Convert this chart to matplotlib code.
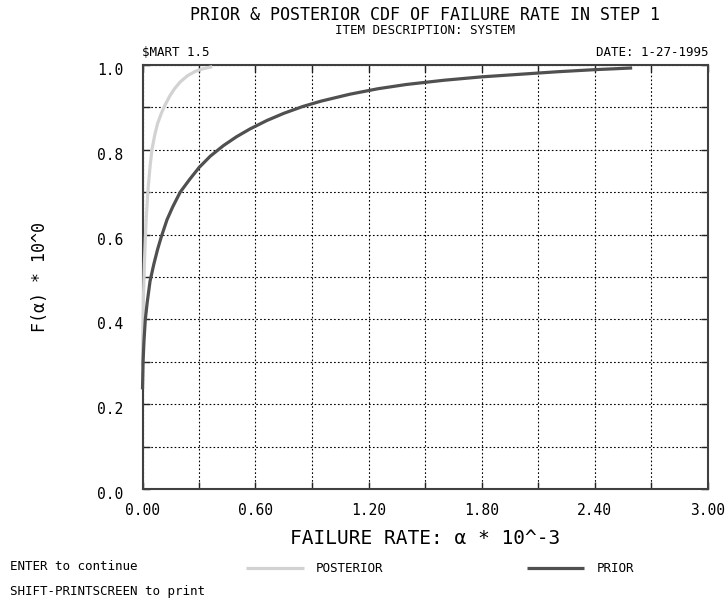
import numpy as np
import matplotlib
matplotlib.use("Agg")
import matplotlib.pyplot as plt
import matplotlib.transforms as mtrans
from matplotlib.ticker import MultipleLocator, FuncFormatter

# values (failure rate in 10^-3 units)
prior_x = [0.0, 0.003, 0.008, 0.015, 0.025, 0.04, 0.06, 0.08, 0.10, 0.13,
           0.16, 0.20, 0.25, 0.30, 0.36, 0.43, 0.50, 0.57, 0.66, 0.75,
           0.85, 0.95, 1.10, 1.25, 1.40, 1.60, 1.80, 2.00, 2.20, 2.40, 2.60]
prior_y = [0.235, 0.30, 0.35, 0.40, 0.44, 0.49, 0.53, 0.565, 0.595, 0.635,
           0.665, 0.70, 0.73, 0.758, 0.785, 0.81, 0.831, 0.849, 0.869, 0.886,
           0.902, 0.915, 0.931, 0.944, 0.954, 0.964, 0.972, 0.978, 0.984, 0.989, 0.993]

post_x = [0.0, 0.002, 0.005, 0.01, 0.015, 0.02, 0.03, 0.04, 0.05, 0.065,
          0.08, 0.10, 0.12, 0.145, 0.17, 0.20, 0.24, 0.28, 0.32, 0.37]
post_y = [0.29, 0.37, 0.45, 0.53, 0.59, 0.64, 0.71, 0.76, 0.80, 0.835,
          0.862, 0.886, 0.906, 0.927, 0.944, 0.96, 0.975, 0.985, 0.991, 0.996]

x_labels = ["0.00", "0.60", "1.20", "1.80", "2.40", "3.00"]
y_labels = ["0.0", "0.2", "0.4", "0.6", "0.8", "1.0"]

W, H = 728, 602
plt.rcParams["font.family"] = "DejaVu Sans Mono"


def fx(px):
    return px / W


def fy(py):
    return 1 - py / H


fig = plt.figure(figsize=(W / 100, H / 100), dpi=100)
ax = fig.add_axes([fx(142.5), fy(489), fx(707.5) - fx(142.5), fy(65) - fy(489)])

ax.plot(prior_x, prior_y, color="#505050", lw=2.3, label="PRIOR", zorder=4,
        clip_on=False, solid_capstyle="butt")
ax.plot(post_x, post_y, color="#d2d2d2", lw=2.3, label="POSTERIOR", zorder=3,
        clip_on=False, solid_capstyle="butt")

ax.set_xlim(0, 3.0)
ax.set_ylim(0, 1.0)
ax.xaxis.set_major_locator(MultipleLocator(0.3))
ax.yaxis.set_major_locator(MultipleLocator(0.1))
ax.xaxis.set_major_formatter(FuncFormatter(
    lambda v, p: x_labels[int(round(v / 0.6))] if abs(v / 0.6 - round(v / 0.6)) < 1e-6 else ""))
ax.yaxis.set_major_formatter(FuncFormatter(
    lambda v, p: y_labels[int(round(v / 0.2))] if abs(v / 0.2 - round(v / 0.2)) < 1e-6 else ""))
ax.tick_params(direction="in", length=5, width=1, color="#222222",
               top=True, right=True, labelsize=10.5, pad=10)
ax.tick_params(axis="y", pad=14)
shift = mtrans.ScaledTranslation(0, -0.04, fig.dpi_scale_trans)
for lab in ax.get_yticklabels():
    lab.set_transform(lab.get_transform() + shift)
ax.grid(True, color="black", lw=0.8, linestyle=(0, (1.5, 2)))
for s in ax.spines.values():
    s.set_color("#404040")
    s.set_linewidth(1.5)

ax.set_xlabel("FAILURE RATE: α * 10^-3", fontsize=14, labelpad=8)
ax.set_ylabel("F(α) * 10^0", fontsize=12, va="center")
ax.yaxis.set_label_coords(-0.181, 0.5)

fig.text(fx(425), fy(15), "PRIOR & POSTERIOR CDF OF FAILURE RATE IN STEP 1",
         ha="center", va="center", fontsize=12)
fig.text(fx(425), fy(30), "ITEM DESCRIPTION: SYSTEM",
         ha="center", va="center", fontsize=9)
fig.text(fx(142), fy(52), "$MART 1.5", ha="left", va="center", fontsize=9)
fig.text(fx(708), fy(52), "DATE: 1-27-1995", ha="right", va="center", fontsize=9)
fig.text(fx(10), fy(566), "ENTER to continue", ha="left", va="center", fontsize=9)
fig.text(fx(10), fy(591), "SHIFT-PRINTSCREEN to print", ha="left", va="center", fontsize=9)

h, l = ax.get_legend_handles_labels()
fig.legend(h[::-1], l[::-1], loc="center", bbox_to_anchor=(fx(440), fy(569)),
           ncol=2, frameon=False, fontsize=9, handlelength=4.6,
           handletextpad=0.95, columnspacing=11.5)

fig.savefig("out.png", dpi=100)
